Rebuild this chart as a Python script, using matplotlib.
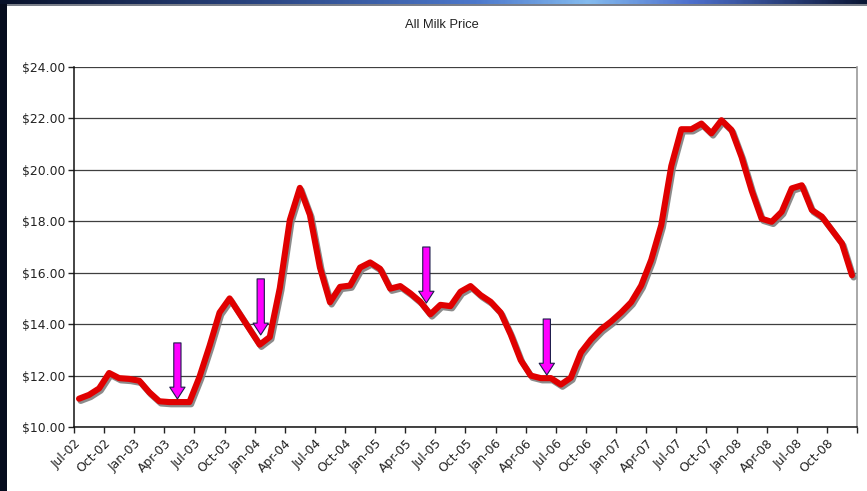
import numpy as np
import pandas as pd
import matplotlib
matplotlib.use("Agg")
import matplotlib.pyplot as plt
import matplotlib.patheffects as pe
from matplotlib.patches import Rectangle, FancyArrowPatch
from matplotlib.ticker import FuncFormatter

# all milk price, $/cwt, monthly Jul-02 .. Dec-08
precio = [11.10, 11.25, 11.50, 12.10, 11.90, 11.87, 11.80, 11.35, 11.00, 10.97,
          10.97, 10.97, 11.95, 13.15, 14.45, 15.00, 14.40, 13.80, 13.20, 13.50,
          15.40, 18.05, 19.30, 18.25, 16.20, 14.85, 15.45, 15.50, 16.20, 16.40,
          16.15, 15.38, 15.48, 15.20, 14.87, 14.38, 14.75, 14.70, 15.26, 15.48,
          15.13, 14.87, 14.45, 13.60, 12.60, 12.00, 11.90, 11.90, 11.65, 11.92,
          12.90, 13.40, 13.80, 14.10, 14.45, 14.85, 15.50, 16.50, 17.85, 20.15,
          21.58, 21.58, 21.80, 21.42, 21.93, 21.55, 20.50, 19.20, 18.10, 17.98,
          18.37, 19.28, 19.40, 18.44, 18.18, 17.66, 17.14, 15.90]

meses = pd.date_range("2002-07-01", periods=len(precio), freq="MS")
etiquetas = [m.strftime("%b-%y") for m in meses][::3]

# flechas: (posicion en eje x, valor arriba, valor de la punta)
flechas = [(10.3, 13.27, 11.09),
           (18.6, 15.76, 13.58),
           (35.1, 17.00, 14.82),
           (47.1, 14.20, 12.02)]

W, H = 867, 491
fig = plt.figure(figsize=(W / 100, H / 100), dpi=100, facecolor="#060c1e")

# panel blanco
fig.patches.append(Rectangle((7 / W, 0), 1, 1 - 5 / H, transform=fig.transFigure,
                             facecolor="white", edgecolor="none", zorder=-10))
fig.patches.append(Rectangle((7 / W, 1 - 5.5 / H), 1, 1.2 / H, transform=fig.transFigure,
                             facecolor="#7a7f8a", edgecolor="none", zorder=-9))

# franja degradada arriba
franja = fig.add_axes([0, 1 - 4.3 / H, 1, 4.3 / H])
franja.set_axis_off()
cm = matplotlib.colors.LinearSegmentedColormap.from_list(
    "franja", [(0.0, "#08112a"), (0.3, "#2a4582"), (0.55, "#4c78cc"),
               (0.68, "#84bbef"), (0.8, "#4d6fcc"), (1.0, "#0a1534")])
franja.imshow(np.linspace(0, 1, 400)[None, :], aspect="auto", cmap=cm,
              extent=(0, 1, 0, 1))

ax = fig.add_axes([74 / W, 1 - 427 / H, (857 - 74) / W, (427 - 67) / H])
ax.set_facecolor("white")

x = np.arange(len(precio)) + 0.5
ax.plot(x, precio, color="#e00000", lw=4.4, solid_joinstyle="round",
        solid_capstyle="round", zorder=4,
        path_effects=[pe.SimpleLineShadow(offset=(1.2, -1.6), shadow_color="#7f7f7f", alpha=0.9),
                      pe.Normal()])

for fx, arriba, punta in flechas:
    flecha = FancyArrowPatch((fx, arriba), (fx, punta),
                             arrowstyle="simple,head_length=8.5,head_width=11,tail_width=5.2",
                             mutation_scale=1, shrinkA=0, shrinkB=0,
                             facecolor="#ff00ff", edgecolor="#1c1c4a", lw=0.8, zorder=6)
    ax.add_patch(flecha)

ax.set_xlim(0, len(precio))
ax.set_ylim(10, 24)
ax.set_yticks(np.arange(10, 24.1, 2))
ax.yaxis.set_major_formatter(FuncFormatter(lambda v, p: "${:.2f}".format(v)))
ax.grid(axis="y", color="#3f3f3f", lw=0.9, zorder=1)
ax.set_axisbelow(True)

ax.set_xticks(np.arange(0, len(precio) + 1, 3))
ax.set_xticklabels(etiquetas + [""], rotation=45, ha="right", va="top",
                   rotation_mode="anchor")

ax.tick_params(axis="both", labelsize=8.9, colors="#222222", length=4, width=1, direction="out")
ax.tick_params(axis="x", pad=3)
ax.tick_params(axis="y", pad=2.5)

for lado in ["left", "bottom"]:
    ax.spines[lado].set_color("#111111")
    ax.spines[lado].set_linewidth(1.1)
ax.spines["right"].set_color("#9a9a9a")
ax.spines["right"].set_linewidth(1.2)
ax.spines["top"].set_visible(False)

fig.text(442 / W, 1 - 25 / H, "All Milk Price", ha="center", va="center",
         fontsize=9.3, color="#222222",
         family=["Liberation Sans Narrow", "Liberation Sans", "DejaVu Sans"])

fig.savefig("out.png", dpi=100, facecolor=fig.get_facecolor())
